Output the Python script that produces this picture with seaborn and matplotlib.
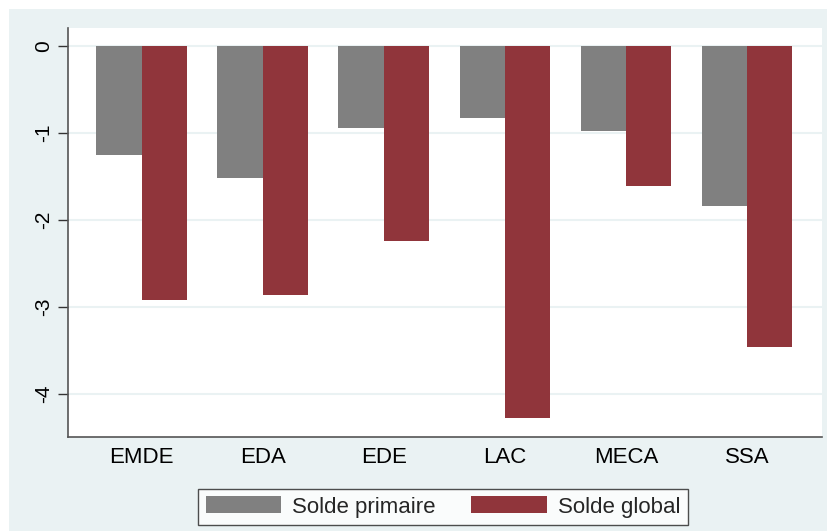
import matplotlib
matplotlib.use("Agg")
import matplotlib.pyplot as plt
import seaborn as sns
import pandas as pd
from matplotlib.patches import Rectangle, Patch

categories = ["EMDE", "EDA", "EDE", "LAC", "MECA", "SSA"]
solde_primaire = [-1.25, -1.52, -0.94, -0.83, -0.98, -1.84]
solde_global = [-2.92, -2.86, -2.24, -4.28, -1.61, -3.46]
series_names = ["Solde primaire", "Solde global"]
yticks = [0, -1, -2, -3, -4]

df = pd.DataFrame({
    "region": categories * 2,
    "serie": [series_names[0]] * len(categories) + [series_names[1]] * len(categories),
    "valeur": solde_primaire + solde_global,
})

sns.set_theme(style="white")
plt.rcParams["font.family"] = ["Liberation Sans", "DejaVu Sans"]

W, H = 828, 531
fig = plt.figure(figsize=(W / 100, H / 100), dpi=100)
fig.patch.set_facecolor("white")
bg = "#EAF2F3"
fig.patches.append(Rectangle((9 / W, 0), 1 - 9 / W, (H - 9) / H, transform=fig.transFigure,
                             facecolor=bg, edgecolor="none", zorder=-10))

ax = fig.add_axes([68 / W, (H - 437) / H, (822 - 68) / W, (437 - 28) / H])
ax.set_facecolor("white")

colors = ["#808080", "#90353B"]
sns.barplot(data=df, x="region", y="valeur", hue="serie", hue_order=series_names,
            order=categories, palette=colors, saturation=1, width=0.75, gap=0,
            errorbar=None, ax=ax, legend=False, zorder=3)
for p in ax.patches:
    p.set_edgecolor("none")

ax.set_xlim(-0.61, 5.62)
ax.set_ylim(-4.5, 0.21)
ax.set_yticks(yticks)
ax.set_yticklabels([str(v) if v >= 0 else "-" + str(-v) for v in yticks],
                   rotation=90, va="center", fontsize=15)
ax.tick_params(axis="y", which="both", left=True, length=7, width=1, color="#333333",
               pad=4, labelcolor="black")
ax.tick_params(axis="x", bottom=False, labelsize=16, pad=1, labelcolor="black")
ax.grid(axis="y", color="#EAF2F3", linewidth=1.5, zorder=0)
ax.set_axisbelow(True)
ax.set_xlabel("")
ax.set_ylabel("")
for s in ["top", "right"]:
    ax.spines[s].set_visible(False)
for s in ["left", "bottom"]:
    ax.spines[s].set_color("#555555")
    ax.spines[s].set_linewidth(1.2)

handles = [Patch(facecolor=c, edgecolor="none") for c in colors]
leg = fig.legend(handles, series_names, loc="center", bbox_to_anchor=(443 / W, (H - 507) / H),
                 ncol=2, fontsize=16, frameon=True, fancybox=False, handlelength=3.4,
                 handleheight=0.8, handletextpad=0.5, columnspacing=1.6, borderpad=0.35)
leg.get_frame().set_edgecolor("#222222")
leg.get_frame().set_linewidth(1.0)
leg.get_frame().set_facecolor("white")

fig.savefig("out.png", dpi=100, facecolor=fig.get_facecolor())
